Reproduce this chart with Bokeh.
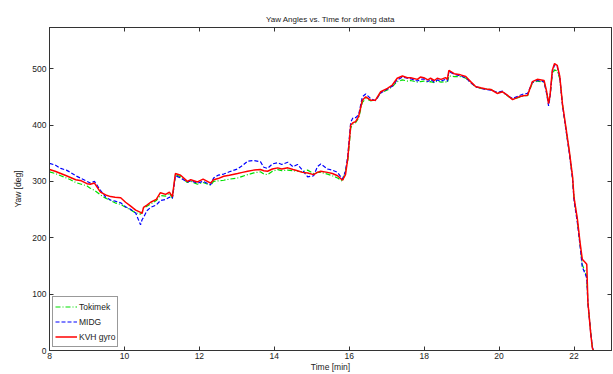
from bokeh.plotting import figure
from bokeh.models import Range1d, LinearAxis, FixedTicker, Legend, LegendItem
from bokeh.embed import file_html
from bokeh.resources import INLINE

# Yaw angle logs from three heading sensors during the drive
time_min = [
    8.00, 8.15, 8.30, 8.45, 8.56, 8.70, 8.85, 9.00, 9.09, 9.20,
    9.36, 9.50, 9.63, 9.75, 9.90, 10.03, 10.15, 10.30, 10.43, 10.47,
    10.51, 10.60, 10.70, 10.85, 10.96, 11.10, 11.20, 11.28, 11.36, 11.50,
    11.68, 11.77, 11.95, 12.10, 12.30, 12.38, 12.50, 12.65, 12.80, 13.02,
    13.15, 13.29, 13.45, 13.63, 13.72, 13.82, 13.95, 14.09, 14.20, 14.36,
    14.50, 14.62, 14.75, 14.89, 15.05, 15.15, 15.24, 15.42, 15.55, 15.69,
    15.82, 15.90, 15.96, 16.04, 16.10, 16.17, 16.25, 16.35, 16.44, 16.57,
    16.70, 16.84, 17.02, 17.15, 17.28, 17.42, 17.55, 17.64, 17.82, 17.90,
    17.99, 18.10, 18.17, 18.27, 18.35, 18.45, 18.57, 18.62, 18.66, 18.80,
    18.97, 19.11, 19.24, 19.38, 19.51, 19.65, 19.78, 19.95, 20.09, 20.22,
    20.36, 20.53, 20.65, 20.76, 20.89, 21.02, 21.20, 21.27, 21.32, 21.36,
    21.42, 21.48, 21.55, 21.62, 21.69, 21.78, 21.87, 21.96, 22.00, 22.09,
    22.16, 22.22, 22.30, 22.34, 22.37, 22.45, 22.49, 22.52,
]

kvh_gyro = [
    321, 318, 314, 310, 307, 303, 301, 296, 295, 297,
    281, 276, 273, 272, 271, 263, 257, 249, 245, 243,
    254, 258, 263, 268, 280, 277, 281, 273, 314, 311,
    300, 303, 299, 304, 297, 303, 305, 309, 311, 314,
    316, 318, 320, 321, 319, 318, 322, 324, 322, 324,
    321, 319, 316, 315, 312, 316, 318, 316, 314, 310,
    302, 312, 340, 400, 404, 406, 415, 444, 450, 444,
    444, 459, 465, 471, 483, 487, 484, 484, 481, 485,
    484, 480, 483, 479, 483, 481, 484, 481, 497, 491,
    489, 486, 477, 468, 466, 464, 463, 456, 459, 453,
    445, 450, 452, 453, 477, 481, 479, 459, 438, 453,
    497, 509, 506, 486, 438, 397, 356, 309, 271, 233,
    192, 162, 156, 153, 86, 27, 4, 0,
]

midg = [
    332, 329, 323, 320, 316, 310, 305, 300, 297, 300,
    284, 272, 267, 265, 262, 255, 251, 244, 223, 232,
    236, 248, 254, 258, 266, 268, 272, 270, 310, 306,
    299, 301, 297, 300, 294, 306, 311, 313, 317, 322,
    328, 336, 337, 335, 325, 323, 331, 333, 330, 334,
    326, 330, 320, 308, 310, 326, 331, 322, 320, 316,
    304, 318, 345, 405, 413, 413, 418, 450, 455, 447,
    443, 457, 464, 469, 480, 485, 483, 482, 478, 481,
    482, 477, 481, 476, 480, 478, 481, 478, 495, 490,
    487, 484, 475, 468, 465, 463, 462, 458, 460, 452,
    447, 452, 455, 456, 476, 479, 477, 455, 434, 450,
    494, 507, 504, 484, 436, 393, 352, 304, 266, 226,
    186, 148, 136, 128, 84, 28, 6, 0,
]

tokimek = [
    317, 314, 310, 306, 303, 298, 295, 292, 288, 284,
    276, 270, 266, 262, 259, 254, 250, 244, 242, 245,
    252, 256, 260, 266, 275, 274, 279, 270, 312, 308,
    298, 300, 295, 298, 293, 300, 301, 302, 304, 306,
    309, 312, 315, 317, 313, 312, 318, 321, 319, 320,
    319, 318, 317, 320, 314, 316, 316, 313, 310, 306,
    300, 320, 335, 395, 402, 404, 412, 440, 447, 443,
    444, 457, 462, 468, 477, 480, 478, 479, 476, 477,
    478, 476, 477, 475, 478, 476, 477, 475, 487, 486,
    486, 483, 476, 467, 465, 464, 463, 457, 459, 452,
    446, 449, 452, 452, 475, 478, 476, 458, 440, 452,
    490, 498, 496, 482, 437, 395, 354, 307, 270, 230,
    190, 152, 140, 130, 86, 30, 6, 0,
]

x_ticks = [8, 10, 12, 14, 16, 18, 20, 22]
y_ticks = [0, 100, 200, 300, 400, 500]

FONT = "Liberation Sans"
AXIS_COLOR = "#333333"

p = figure(
    width=613, height=374,
    output_backend="svg", toolbar_location=None,
    x_range=Range1d(8, 23), y_range=Range1d(0, 573),
    min_border_left=49, min_border_right=2,
    min_border_top=27, min_border_bottom=22,
    title="Yaw Angles vs. Time for driving data",
)
p.background_fill_color = "white"
p.border_fill_color = "white"
p.outline_line_color = AXIS_COLOR
p.xgrid.visible = False
p.ygrid.visible = False

p.title.text_font = FONT
p.title.text_font_size = "8px"
p.title.text_font_style = "normal"
p.title.text_color = "#222222"
p.title.align = "center"
p.title.standoff = 8

for ax in (p.xaxis[0], p.yaxis[0]):
    ax.major_tick_in = 4
    ax.major_tick_out = 0
    ax.minor_tick_line_color = None
    ax.axis_line_color = AXIS_COLOR
    ax.major_tick_line_color = AXIS_COLOR
    ax.major_label_text_font = FONT
    ax.major_label_text_font_size = "8.5px"
    ax.major_label_text_color = "#222222"
    ax.axis_label_text_font = FONT
    ax.axis_label_text_font_size = "8.5px"
    ax.axis_label_text_font_style = "normal"
    ax.axis_label_text_color = "#222222"

p.xaxis.ticker = FixedTicker(ticks=x_ticks)
p.yaxis.ticker = FixedTicker(ticks=y_ticks)
p.xaxis.axis_label = "Time [min]"
p.yaxis.axis_label = "Yaw [deg]"
p.xaxis.major_label_standoff = 2
p.xaxis.axis_label_standoff = 0
p.yaxis.major_label_standoff = 3
p.yaxis.axis_label_standoff = 6

# Box-style ticks on the top and right edges (no labels there)
top_axis = LinearAxis(ticker=FixedTicker(ticks=x_ticks))
right_axis = LinearAxis(ticker=FixedTicker(ticks=y_ticks))
for ax in (top_axis, right_axis):
    ax.major_tick_in = 4
    ax.major_tick_out = 0
    ax.minor_tick_line_color = None
    ax.axis_line_color = AXIS_COLOR
    ax.major_tick_line_color = AXIS_COLOR
    ax.major_label_text_font_size = "0px"
    ax.major_label_text_color = None
    ax.major_label_standoff = 0
p.add_layout(top_axis, "above")
p.add_layout(right_axis, "right")

r_tok = p.line(time_min, tokimek, line_color="#00e000", line_width=1.2,
               line_dash="5 2 1 2")
r_midg = p.line(time_min, midg, line_color="#0000ff", line_width=1.2,
                line_dash="4 2")
r_kvh = p.line(time_min, kvh_gyro, line_color="#ff0000", line_width=1.5)

legend = Legend(
    items=[
        LegendItem(label="Tokimek", renderers=[r_tok]),
        LegendItem(label="MIDG", renderers=[r_midg]),
        LegendItem(label="KVH gyro", renderers=[r_kvh]),
    ],
    location="bottom_left",
    margin=3,
    padding=2,
    spacing=0,
    label_height=15,
    glyph_height=15,
    glyph_width=22,
    label_standoff=2,
    label_text_font=FONT,
    label_text_font_size="8.5px",
    label_text_color="#222222",
    border_line_color=AXIS_COLOR,
    border_line_width=1,
    background_fill_color="white",
    background_fill_alpha=1.0,
)
p.add_layout(legend)

open("out.html", "w").write(file_html(p, INLINE))
